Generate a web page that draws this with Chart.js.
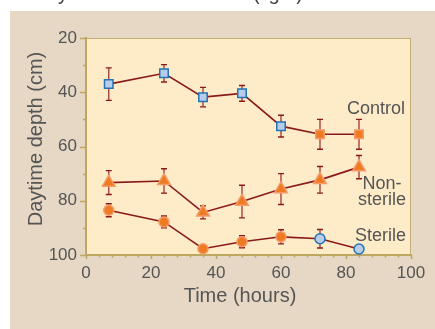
<!DOCTYPE html>
<html>
<head>
<meta charset="utf-8">
<script src="https://cdn.jsdelivr.net/npm/chart.js@4"></script>
<style>
  html, body { margin: 0; padding: 0; background: #fff; }
  canvas { display: block; }
</style>
</head>
<body>
<canvas id="chart" width="435" height="329"></canvas>
<script>
// sampling times (hours)
const times = [7, 24, 36, 48, 60, 72, 84];

// mean daytime depth (cm) and +/- error
const controlDepth = [37, 33, 41.8, 40.4, 52.5, 55.5, 55.5];
const controlErr = [6, 3.2, 3.6, 2.9, 4, 5.5, 5.5];
const nonSterileDepth = [73.3, 72.7, 84.3, 80.3, 75.7, 72.3, 67.6];
const nonSterileErr = [4.4, 4.5, 2.4, 6, 5.7, 4.9, 4.3];
const sterileDepth = [83.5, 87.8, 97.7, 95.1, 93.3, 94, 97.8];
const sterileErr = [2.4, 2.2, 0, 2.2, 2.6, 3.4, 0];

// axis ticks
const xTicks = [0, 20, 40, 60, 80, 100];
const yTicks = [20, 40, 60, 80, 100];

const FONT = '"Liberation Sans", Arial, sans-serif';
const TEXT = '#555555';
const LINE = '#8a1a1a';
const AXIS = '#bfa661';
const ORANGE = '#ee7a22';
const ORANGE_EDGE = '#f59a68';
const BLUE = '#b8cdea';
const BLUE_EDGE = '#2274b6';

const toPoints = (ys) => ys.map((y, i) => ({ x: times[i], y }));

// first five control points are blue, last two orange; sterile the other way round
const colorBy = (mode, fill) => times.map((t, i) => {
    const blue = mode === 'first' ? i < 5 : mode === 'last' ? i >= 5 : false;
    if (fill) return blue ? BLUE : ORANGE;
    return blue ? BLUE_EDGE : ORANGE_EDGE;
});

const errors = [controlErr, nonSterileErr, sterileErr];

const backdrop = {
    id: 'backdrop',
    beforeDraw(chart) {
        const { ctx, chartArea: a } = chart;
        ctx.save();
        ctx.fillStyle = '#ffffff';
        ctx.fillRect(0, 0, chart.width, chart.height);
        ctx.fillStyle = '#e6d8c4';
        ctx.fillRect(10, 11, chart.width - 10, chart.height - 11);
        ctx.fillStyle = '#feebc8';
        ctx.fillRect(a.left, a.top, a.right - a.left, a.bottom - a.top);
        ctx.strokeStyle = '#c2ad78';
        ctx.lineWidth = 1;
        ctx.strokeRect(a.left, a.top + 0.5, a.right - a.left - 0.5, a.bottom - a.top);

        // clipped line of text from above the figure (only descenders show)
        ctx.fillStyle = '#444';
        ctx.font = '20px ' + FONT;
        ctx.textBaseline = 'alphabetic';
        ctx.textAlign = 'left';
        ctx.fillText('y', 58, 0);
        ctx.fillText('(light)', 253, 0);
        ctx.restore();
    },
    beforeDatasetsDraw(chart) {
        const { ctx, chartArea: a, scales: { x, y } } = chart;
        ctx.save();
        ctx.strokeStyle = AXIS;
        ctx.lineWidth = 1.5;
        for (let v = 0; v <= 100; v += 4) {
            const px = Math.round(x.getPixelForValue(v)) + 0.5;
            const len = v % 20 === 0 ? 4 : 2.5;
            ctx.beginPath();
            ctx.moveTo(px, a.bottom);
            ctx.lineTo(px, a.bottom + len);
            ctx.stroke();
        }
        for (let v = 20; v <= 100; v += 10) {
            const py = Math.round(y.getPixelForValue(v)) + 0.5;
            const len = v % 20 === 0 ? 6 : 3;
            ctx.beginPath();
            ctx.moveTo(a.left - len, py);
            ctx.lineTo(a.left, py);
            ctx.stroke();
        }

        // error bars
        chart.data.datasets.forEach((ds, d) => {
            ds.data.forEach((p, i) => {
                const e = errors[d][i];
                if (!e) return;
                const px = x.getPixelForValue(p.x);
                const top = y.getPixelForValue(p.y - e);
                const bot = y.getPixelForValue(p.y + e);
                ctx.strokeStyle = '#a64444';
                ctx.lineWidth = 1.4;
                ctx.beginPath();
                ctx.moveTo(px, top);
                ctx.lineTo(px, bot);
                ctx.stroke();
                ctx.strokeStyle = LINE;
                ctx.beginPath();
                ctx.moveTo(px - 3, top);
                ctx.lineTo(px + 3, top);
                ctx.moveTo(px - 3, bot);
                ctx.lineTo(px + 3, bot);
                ctx.stroke();
            });
        });
        ctx.restore();
    },
    afterDraw(chart) {
        const { ctx } = chart;
        ctx.save();
        ctx.fillStyle = TEXT;
        ctx.textBaseline = 'alphabetic';
        ctx.font = '18px ' + FONT;
        ctx.textAlign = 'left';
        ctx.fillText('Control', 347, 114);
        ctx.fillText('Sterile', 355, 241);
        ctx.textAlign = 'center';
        ctx.fillText('Non-', 382, 189);
        ctx.fillText('sterile', 382, 205);

        ctx.font = '20px ' + FONT;
        ctx.fillText('Time (hours)', 240, 302);
        ctx.translate(42, 139);
        ctx.rotate(-Math.PI / 2);
        ctx.fillText('Daytime depth (cm)', 0, 0);
        ctx.restore();
    }
};

const series = (data, style, radius, mode) => ({
    data: toPoints(data),
    showLine: true,
    borderColor: LINE,
    borderWidth: 1.6,
    tension: 0,
    pointStyle: style,
    pointRadius: radius,
    pointBorderWidth: 1.5,
    pointBackgroundColor: colorBy(mode, true),
    pointBorderColor: colorBy(mode, false),
    clip: false
});

new Chart(document.getElementById('chart'), {
    type: 'line',
    data: {
        datasets: [
            series(controlDepth, 'rect', 6, 'first'),
            series(nonSterileDepth, 'triangle', 7.3, 'none'),
            series(sterileDepth, 'circle', 5, 'last')
        ]
    },
    plugins: [backdrop],
    options: {
        responsive: false,
        animation: false,
        layout: { padding: { top: 38, right: 24, left: 0, bottom: 0 } },
        plugins: { legend: { display: false }, tooltip: { enabled: false } },
        scales: {
            x: {
                type: 'linear',
                min: 0,
                max: 100,
                afterFit: (s) => { s.height = 74; },
                afterBuildTicks: (s) => { s.ticks = xTicks.map((v) => ({ value: v })); },
                grid: { display: false, drawTicks: false },
                border: { display: true, color: AXIS, width: 2 },
                ticks: { padding: 8, color: TEXT, font: { family: FONT, size: 17 } }
            },
            y: {
                type: 'linear',
                min: 20,
                max: 100,
                reverse: true,
                afterFit: (s) => { s.width = 86; },
                afterBuildTicks: (s) => { s.ticks = yTicks.map((v) => ({ value: v })); },
                grid: { display: false, drawTicks: false },
                border: { display: true, color: AXIS, width: 2 },
                ticks: { padding: 9, color: TEXT, font: { family: FONT, size: 17 } }
            }
        }
    }
});
</script>
</body>
</html>
